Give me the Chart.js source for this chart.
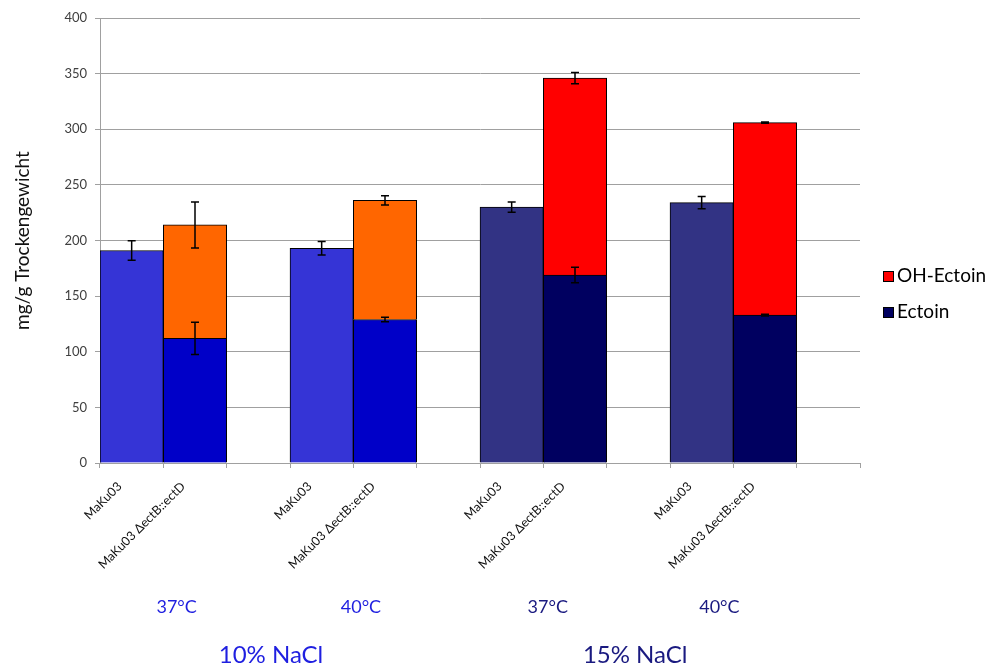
<!DOCTYPE html>
<html lang="de">
<head>
    <meta charset="UTF-8">
    <title>Ectoin / OH-Ectoin</title>
    <script src="https://cdn.jsdelivr.net/npm/chart.js"></script>
    <style>
        html, body { margin: 0; padding: 0; background: #fff; }
        #wrap { width: 991px; height: 669px; }
    </style>
</head>
<body>
    <div id="wrap"><canvas id="ectoinChart"></canvas></div>

    <script>
        // 12 slots: two bars per condition, one empty slot as gap
        const strains = [
            "MaKu03", "MaKu03 \u0394ectB::ectD", "",
            "MaKu03", "MaKu03 \u0394ectB::ectD", "",
            "MaKu03", "MaKu03 \u0394ectB::ectD", "",
            "MaKu03", "MaKu03 \u0394ectB::ectD", "",
        ];

        // mg/g Trockengewicht
        const ectoin = [191, 112, null, 193, 129, null, 230, 169, null, 234, 133, null];
        const ohEctoin = [null, 102, null, null, 107, null, null, 177, null, null, 173, null];

        // standard deviation
        const ectoinErr = [8.7, 14.5, null, 6, 2, null, 4.5, 7, null, 5.5, 0.8, null];
        const ohEctoinErr = [null, 20.7, null, null, 4.2, null, null, 5, null, null, 0.6, null];

        const temps = ["37\u00b0C", "40\u00b0C", "37\u00b0C", "40\u00b0C"];
        const salts = ["10% NaCl", "15% NaCl"];

        const font = "Lato, 'Open Sans', sans-serif";

        // per-bar colour arrays
        const ectoinBg = strains.map((s, i) => {
            const g = Math.floor(i / 3);
            if (i % 3 === 0) return g < 2 ? '#3534d6' : '#323384';
            return g < 2 ? '#0000c8' : '#000060';
        });
        const ohBg = strains.map((s, i) => Math.floor(i / 3) < 2 ? '#ff6600' : '#ff0000');

        // error bars, drawn from the stack top of each bar
        const errorBars = {
            id: 'errorBars',
            afterDatasetsDraw(chart) {
                const ctx = chart.ctx;
                const y = chart.scales.y;
                const errs = [ectoinErr, ohEctoinErr];
                ctx.save();
                ctx.strokeStyle = '#000';
                ctx.lineWidth = 1.5;
                chart.data.datasets.forEach((ds, di) => {
                    const meta = chart.getDatasetMeta(di);
                    meta.data.forEach((bar, i) => {
                        const e = errs[di][i];
                        if (e == null || ds.data[i] == null) return;
                        const d = y.getPixelForValue(0) - y.getPixelForValue(e);
                        const top = bar.y - d, bot = bar.y + d;
                        ctx.beginPath();
                        ctx.moveTo(bar.x, top); ctx.lineTo(bar.x, bot);
                        ctx.moveTo(bar.x - 4, top); ctx.lineTo(bar.x + 4, top);
                        ctx.moveTo(bar.x - 4, bot); ctx.lineTo(bar.x + 4, bot);
                        ctx.stroke();
                    });
                });
                ctx.restore();
            }
        };

        // temperature + salt labels under the axis, plus the legend
        const groupLabels = {
            id: 'groupLabels',
            afterDraw(chart) {
                const ctx = chart.ctx;
                const x = chart.scales.x;
                const tempPos = [0.71, 3.62, 6.57, 9.28];
                const saltPos = [2.2, 7.95];
                const tempColor = ['#1f1fe0', '#1f1fe0', '#1a1a80', '#1a1a80'];
                const saltColor = ['#1f1fe0', '#1a1a80'];
                ctx.save();
                ctx.textAlign = 'center';
                ctx.textBaseline = 'middle';
                ctx.font = "18px " + font;
                temps.forEach((t, i) => {
                    ctx.fillStyle = tempColor[i];
                    ctx.fillText(t, x.getPixelForValue(tempPos[i]), 607);
                });
                ctx.font = "24px " + font;
                salts.forEach((t, i) => {
                    ctx.fillStyle = saltColor[i];
                    ctx.fillText(t, x.getPixelForValue(saltPos[i]), 655);
                });

                // legend
                const items = [['OH-Ectoin', '#ff0000', 276], ['Ectoin', '#000060', 312]];
                ctx.textAlign = 'left';
                ctx.font = "19px " + font;
                items.forEach(([label, col, yy]) => {
                    ctx.fillStyle = col;
                    ctx.fillRect(883, yy - 5, 10, 10);
                    ctx.strokeStyle = '#000';
                    ctx.lineWidth = 1;
                    ctx.strokeRect(883.5, yy - 4.5, 10, 10);
                    ctx.fillStyle = '#000';
                    ctx.fillText(label, 897, yy);
                });
                ctx.restore();
            }
        };

        new Chart(document.getElementById('ectoinChart'), {
            type: 'bar',
            data: {
                labels: strains,
                datasets: [
                    {
                        label: 'Ectoin',
                        data: ectoin,
                        backgroundColor: ectoinBg,
                        borderColor: '#000',
                        borderWidth: 1,
                        borderSkipped: 'bottom',
                    },
                    {
                        label: 'OH-Ectoin',
                        data: ohEctoin,
                        backgroundColor: ohBg,
                        borderColor: '#000',
                        borderWidth: 1,
                        borderSkipped: 'bottom',
                    },
                ],
            },
            options: {
                responsive: true,
                maintainAspectRatio: false,
                animation: false,
                categoryPercentage: 1.0,
                barPercentage: 1.0,
                layout: { padding: { top: 18, right: 131, left: 0, bottom: 0 } },
                plugins: {
                    legend: { display: false },
                    tooltip: { enabled: false },
                },
                scales: {
                    x: {
                        stacked: true,
                        grid: {
                            display: true,
                            drawOnChartArea: false,
                            offset: true,
                            tickLength: 5,
                            color: '#a0a0a0',
                        },
                        border: { color: '#a0a0a0' },
                        ticks: {
                            autoSkip: false,
                            minRotation: 45,
                            maxRotation: 45,
                            padding: 11,
                            labelOffset: -12,
                            color: '#111',
                            font: { family: font, size: 12.5 },
                        },
                        afterFit: (s) => { s.height = 206; },
                    },
                    y: {
                        stacked: true,
                        min: 0,
                        max: 400,
                        grid: { color: '#a0a0a0', tickLength: 5 },
                        border: { color: '#a0a0a0' },
                        ticks: {
                            stepSize: 50,
                            padding: 8,
                            color: '#404040',
                            font: { family: font, size: 13 },
                        },
                        title: {
                            display: true,
                            text: 'mg/g Trockengewicht',
                            color: '#111',
                            font: { family: font, size: 19 },
                            padding: { top: 11, bottom: 4 },
                        },
                        afterFit: (s) => { s.width = 100; },
                    },
                },
            },
            plugins: [errorBars, groupLabels],
        });
    </script>
</body>
</html>
